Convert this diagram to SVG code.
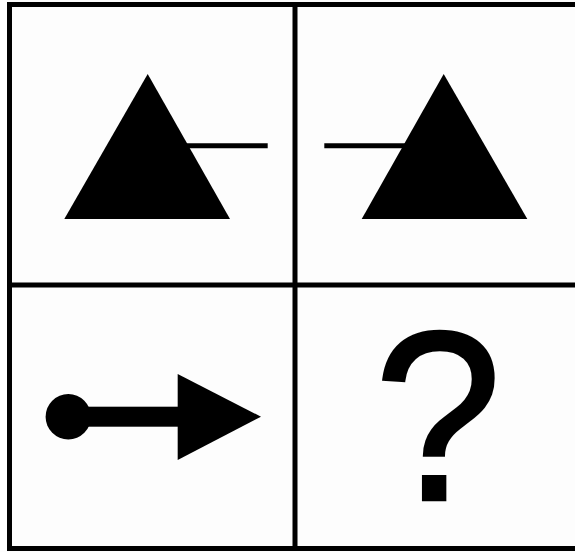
<svg xmlns="http://www.w3.org/2000/svg" width="575" height="552" viewBox="0 0 575 552">
<style>
.grid{stroke:#000;stroke-width:5;fill:none}
.shape{fill:#000}
.bar{stroke:#000;stroke-width:5}
.q{font-family:"Liberation Sans",Arial,sans-serif;font-size:230px;fill:#000;stroke:#000;stroke-width:2.5;stroke-linejoin:miter}
</style>
<rect width="575" height="552" fill="#fdfdfd"/>
<g id="grid">
<line class="grid" x1="9.5" y1="4.5" x2="575" y2="4.5"/>
<line class="grid" x1="9.5" y1="2" x2="9.5" y2="551"/>
<line class="grid" x1="7" y1="548.5" x2="575" y2="548.5"/>
<line class="grid" x1="295" y1="2" x2="295" y2="551"/>
<line class="grid" x1="7" y1="285" x2="575" y2="285"/>
</g>
<g id="cell1">
<polygon class="shape" points="147.7,74 230,219 64.3,219"/>
<line class="bar" x1="185" y1="145.7" x2="267.7" y2="145.7"/>
</g>
<g id="cell2">
<polygon class="shape" points="443.7,74 527.3,219 361.7,219"/>
<line class="bar" x1="324.3" y1="145.7" x2="407" y2="145.7"/>
</g>
<g id="cell3">
<circle class="shape" cx="68.3" cy="416.7" r="22.7"/>
<rect class="shape" x="68" y="406.7" width="112" height="20"/>
<polygon class="shape" points="177.7,374 261,416.7 177.7,460"/>
</g>
<g id="cell4">
<text class="q" transform="translate(438,500) scale(1,1.05)" x="0" y="0" text-anchor="middle">?</text>
</g>
</svg>
